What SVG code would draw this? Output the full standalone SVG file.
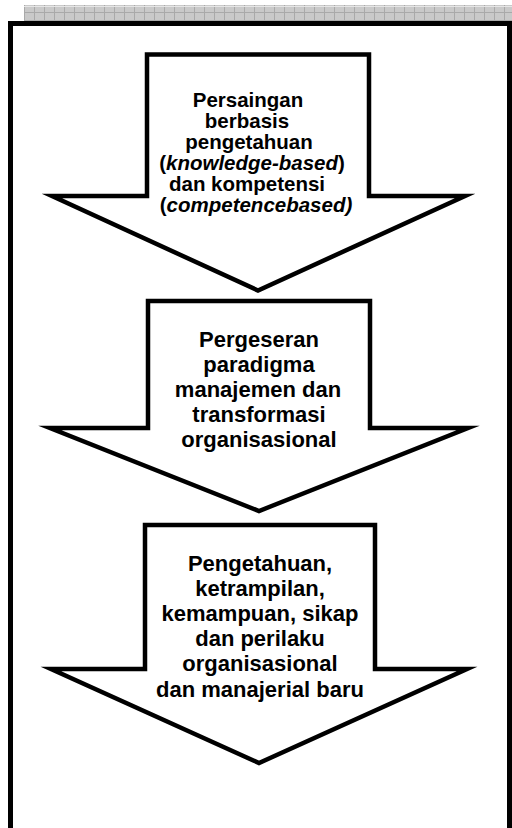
<svg xmlns="http://www.w3.org/2000/svg" width="512" height="828" viewBox="0 0 512 828">
<style>
.arrow{fill:#fff;stroke:#000;stroke-width:4.5;stroke-linejoin:miter;stroke-miterlimit:6}
.t{font-family:"Liberation Sans",Arial,sans-serif;font-weight:bold;font-size:22px;fill:#000;text-anchor:middle}
.s{font-size:20.5px}
.i{font-style:italic}
</style>
<defs>
<pattern id="grid" x="24" y="5" width="10" height="8" patternUnits="userSpaceOnUse">
<rect width="10" height="8" fill="#c9c9c9"/>
<path d="M0.5 0V8M0 7.5H10" stroke="#a9a9a9" stroke-width="1" fill="none"/>
</pattern>
</defs>
<rect x="0" y="0" width="512" height="828" fill="#fff"/>
<g id="header">
<rect x="24" y="5" width="488" height="16" fill="url(#grid)"/>
<line x1="24" y1="6.5" x2="512" y2="6.5" stroke="#e6e6e6" stroke-width="1"/>
</g>
<g id="frame">
<rect x="10.5" y="23.5" width="499" height="900" fill="none" stroke="#000" stroke-width="5"/>
</g>
<g id="connectors"></g>
<g id="arrow1">
<polygon class="arrow" points="147,54.5 369,54.5 369,196 465,196 258,290.5 52,196 147,196"/>
<text class="t s" x="248" y="106.5">Persaingan</text>
<text class="t s" x="247" y="127.5">berbasis</text>
<text class="t s" x="249" y="148.5">pengetahuan</text>
<text class="t s" x="252" y="169.5">(<tspan class="i">knowledge-based</tspan>)</text>
<text class="t s" x="247" y="190.5">dan kompetensi</text>
<text class="t s" x="256" y="211.5">(<tspan class="i">competencebased)</tspan></text>
</g>
<g id="arrow2">
<polygon class="arrow" points="148,301 370,301 370,428 468,428 259,511 50,428 148,428"/>
<text class="t" x="259" y="346.5">Pergeseran</text>
<text class="t" x="259" y="371.5">paradigma</text>
<text class="t" x="258" y="396.5">manajemen dan</text>
<text class="t" x="259" y="421.5">transformasi</text>
<text class="t" x="259" y="446.5">organisasional</text>
</g>
<g id="arrow3">
<polygon class="arrow" points="145,525 375,525 375,669 467,669 259,763 51,669 145,669"/>
<text class="t" x="260" y="571">Pengetahuan,</text>
<text class="t" x="260" y="596">ketrampilan,</text>
<text class="t" x="260" y="621">kemampuan, sikap</text>
<text class="t" x="260" y="646">dan perilaku</text>
<text class="t" x="260" y="671">organisasional</text>
<text class="t" x="260" y="697">dan manajerial baru</text>
</g>
</svg>
